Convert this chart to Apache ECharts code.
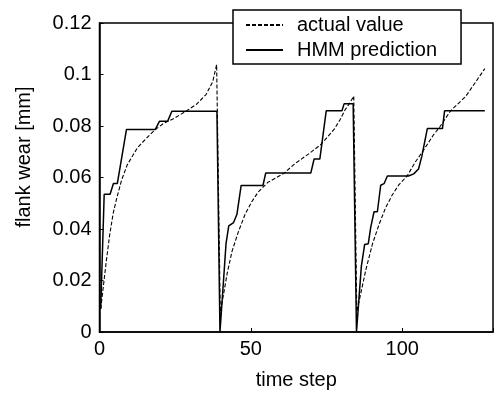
<!DOCTYPE html>
<html>
<head>
<meta charset="utf-8">
<script src="https://cdn.jsdelivr.net/npm/echarts@6/dist/echarts.min.js"></script>
<style>
  html, body { margin: 0; padding: 0; background: #fff; }
  #chart { width: 496px; height: 395px; }
</style>
</head>
<body>
<div id="chart"></div>
<script>
// Measured flank wear over three tool-life cycles
const actualTime = [
  0.4, 1.4, 2.4, 3.4, 4.5, 5.7, 7.3, 9.2, 12.5, 15.7, 18.4, 21.2, 24.4, 28.8, 32, 35.2, 37.4, 38.7,
  39.9, 41.1, 42.2, 43.8, 45.9, 48.1, 50.3, 52.4, 55.6, 58.5, 61, 64.5, 69.5, 73, 74.4, 77.7, 79.5, 81.1, 82.7, 84,
  85, 86.4, 88, 90.2, 92.4, 94.5, 96.7, 98.8, 101.7, 104.2, 107, 110.3, 112.4, 116, 121, 127.3
];
const actualValue = [
  0.009, 0.019, 0.029, 0.038, 0.046, 0.052, 0.059, 0.065, 0.0715, 0.0755, 0.0786, 0.081, 0.0828, 0.0859, 0.0884, 0.0922, 0.0972, 0.1038,
  0.0079, 0.0154, 0.0229, 0.0314, 0.039, 0.0457, 0.0506, 0.0543, 0.0581, 0.06, 0.0617, 0.0653, 0.0695, 0.0727, 0.0745, 0.079, 0.0825, 0.0862, 0.089, 0.0916,
  0.0079, 0.0154, 0.0242, 0.0343, 0.0419, 0.0482, 0.0532, 0.057, 0.0607, 0.0658, 0.0705, 0.0765, 0.0796, 0.0859, 0.0915, 0.1023
];

// Wear level estimated by the hidden Markov model
const hmmTime = [
  0.4, 1.55, 3.5, 4.6, 5.9, 8.9, 18.4, 19.8, 22.5, 23.9, 38.8, 39.8,
  41, 41.8, 42.7, 44.3, 45.4, 46.8, 54, 54.9, 69.8, 70.9, 72.8, 74.9, 80.1, 80.8, 83.8, 84.9,
  86.5, 87.6, 88.8, 89.6, 90.7, 91.8, 92.9, 94, 95.1, 102.1, 103.8, 105.4, 106.5, 108.3, 113.3, 114, 127.3
];
const hmmValue = [
  0.009, 0.0535, 0.0535, 0.0577, 0.0577, 0.0786, 0.0786, 0.0818, 0.0818, 0.0857, 0.0857, 0,
  0.0205, 0.0343, 0.0412, 0.0425, 0.0457, 0.0569, 0.0569, 0.0617, 0.0617, 0.0672, 0.0672, 0.0859, 0.0859, 0.0886, 0.0886, 0,
  0.0255, 0.034, 0.0343, 0.0406, 0.0467, 0.0467, 0.057, 0.0576, 0.0606, 0.0606, 0.0614, 0.0633, 0.0683, 0.079, 0.079, 0.0859, 0.0859
];

const xTickValues = [0, 50, 100];
const xTickLabels = ['0', '50', '100'];
const yTickValues = [0, 0.02, 0.04, 0.06, 0.08, 0.1, 0.12];
const yTickLabels = ['0', '0.02', '0.04', '0.06', '0.08', '0.1', '0.12'];

const FONT = '"Liberation Sans", Arial, Helvetica, sans-serif';

function pairs(xs, ys) {
  return xs.map((x, i) => [x, ys[i]]);
}
function lookup(values, labels) {
  return function (v) {
    for (let i = 0; i < values.length; i++) {
      if (Math.abs(values[i] - v) < 1e-9) return labels[i];
    }
    return '';
  };
}

const chart = echarts.init(document.getElementById('chart'), null, { renderer: 'canvas' });
chart.setOption({
  animation: false,
  backgroundColor: '#fff',
  textStyle: { fontFamily: FONT },
  grid: {
    left: 99.5, top: 23, width: 401.5, height: 318,
    show: true, borderColor: '#000', borderWidth: 1.5, backgroundColor: 'transparent'
  },
  legend: {
    orient: 'vertical',
    left: 233, top: 10,
    itemWidth: 37, itemHeight: 14, itemGap: 5,
    padding: [5, 24, 4, 12],
    borderColor: '#000', borderWidth: 1.5, borderRadius: 0,
    backgroundColor: '#fff',
    // line-only keys: the marker dot is made fully transparent
    itemStyle: { opacity: 0, borderWidth: 0 },
    textStyle: { fontFamily: FONT, fontSize: 20, color: '#000', padding: [0, 0, 0, 9] },
    data: ['actual value', 'HMM prediction']
  },
  xAxis: {
    type: 'value', min: 0, max: 130, interval: 50,
    name: 'time step', nameLocation: 'middle', nameGap: 38,
    nameTextStyle: { fontFamily: FONT, fontSize: 20, color: '#000' },
    axisLine: { lineStyle: { color: '#000', width: 1.5 } },
    axisTick: { inside: true, length: 4, lineStyle: { color: '#000', width: 1 } },
    axisLabel: { fontFamily: FONT, fontSize: 20, color: '#000', margin: 7, formatter: lookup(xTickValues, xTickLabels) },
    splitLine: { show: false }
  },
  yAxis: {
    type: 'value', min: 0, max: 0.12, interval: 0.02,
    axisLine: { show: true, lineStyle: { color: '#000', width: 1.5 } },
    axisTick: { show: true, inside: true, length: 4, lineStyle: { color: '#000', width: 1 } },
    axisLabel: { fontFamily: FONT, fontSize: 20, color: '#000', margin: 8, formatter: lookup(yTickValues, yTickLabels) },
    splitLine: { show: false }
  },
  graphic: [{
    type: 'text',
    x: 24, y: 157,
    rotation: Math.PI / 2,
    style: {
      text: 'flank wear [mm]',
      font: '20px ' + FONT,
      fill: '#000',
      align: 'center',
      verticalAlign: 'middle'
    }
  }],
  series: [
    {
      name: 'actual value',
      type: 'line',
      data: pairs(actualTime, actualValue),
      symbol: 'none',
      lineStyle: { color: '#000', width: 1.1, type: [4, 2] },
      itemStyle: { color: '#000' },
      z: 2
    },
    {
      name: 'HMM prediction',
      type: 'line',
      data: pairs(hmmTime, hmmValue),
      symbol: 'none',
      lineStyle: { color: '#000', width: 1.5 },
      itemStyle: { color: '#000' },
      z: 3
    }
  ]
});
</script>
</body>
</html>
